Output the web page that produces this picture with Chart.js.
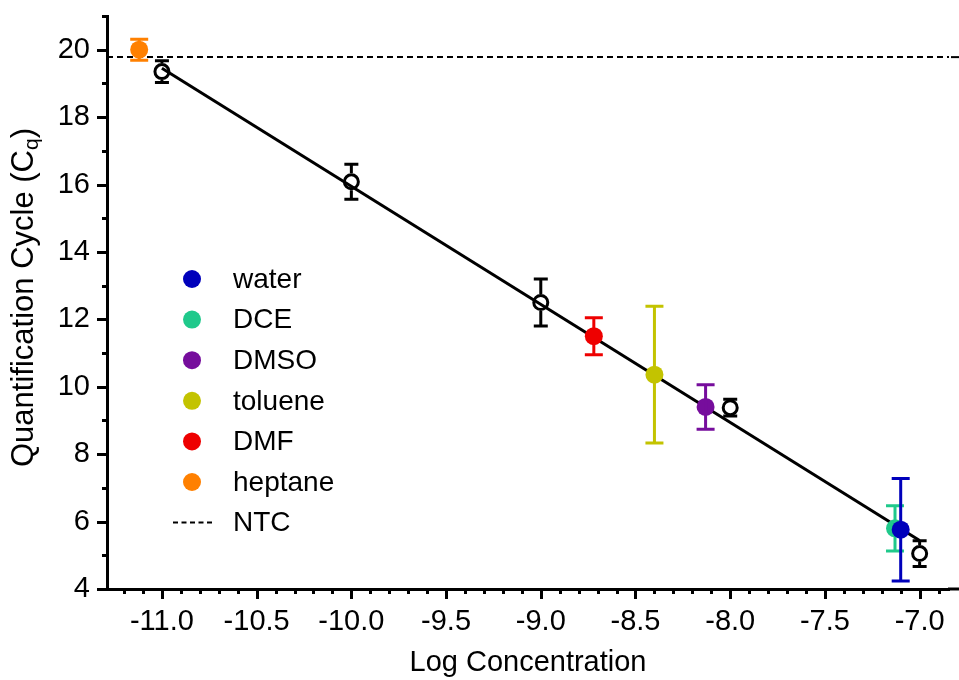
<!DOCTYPE html>
<html><head><meta charset="utf-8">
<script src="https://cdn.jsdelivr.net/npm/chart.js@4.4.0/dist/chart.umd.min.js"></script>
<style>html,body{margin:0;padding:0;background:#fff;}canvas{display:block;}</style>
</head><body>
<canvas id="c" width="959" height="680"></canvas>
<script>
// ---- data ----
const stdX = [-11, -10, -9, -8, -7];
const stdY = [19.35, 16.08, 12.50, 9.38, 5.05];
const stdErr = [0.32, 0.52, 0.70, 0.25, 0.38];

const solvents = ['water', 'DCE', 'DMSO', 'toluene', 'DMF', 'heptane'];
const solventX = [-7.10, -7.13, -8.13, -8.40, -8.72, -11.12];
const solventY = [5.76, 5.80, 9.40, 10.36, 11.50, 20.00];
const solventErr = [1.52, 0.67, 0.66, 2.03, 0.55, 0.31];
const solventColors = ['#0000bb', '#1fc98b', '#760d9c', '#c3c300', '#ee0000', '#ff8000'];

const fitX = [-11, -7];
const fitY = [19.45, 5.44];
const ntcLabel = 'NTC';
const ntcY = 19.78;

const xRange = [-11.29, -6.845];
const yRange = [4, 21];
const xTicks = [-11.0, -10.5, -10.0, -9.5, -9.0, -8.5, -8.0, -7.5, -7.0];
const yTicks = [4, 6, 8, 10, 12, 14, 16, 18, 20];
const xTitle = 'Log Concentration';
const yTitleMain = 'Quantification Cycle (C';
const yTitleSub = 'q';
const yTitleEnd = ')';

const FONT = "'Liberation Sans', Arial, sans-serif";

// ---- datasets ----
const datasets = [];
solvents.forEach((name, i) => {
  datasets.push({
    label: name,
    data: [{x: solventX[i], y: solventY[i]}],
    errors: [solventErr[i]],
    capWidth: 18,
    backgroundColor: solventColors[i],
    borderColor: solventColors[i],
    pointRadius: 9, pointHoverRadius: 9, pointBorderWidth: 0,
    showLine: false,
    order: i
  });
});
datasets.push({
  label: 'fit',
  data: fitX.map((x, i) => ({x, y: fitY[i]})),
  showLine: true, borderColor: '#000', borderWidth: 3,
  pointRadius: 0, pointHoverRadius: 0, order: 6
});
datasets.push({
  label: 'standards',
  data: stdX.map((x, i) => ({x, y: stdY[i]})),
  errors: stdErr, hollow: true, capWidth: 14,
  backgroundColor: 'rgba(0,0,0,0)', borderColor: '#000',
  pointRadius: 7, pointHoverRadius: 7, pointBorderWidth: 3,
  showLine: false, order: 7
});
datasets.push({
  label: ntcLabel,
  data: [{x: xRange[0], y: ntcY}, {x: xRange[1], y: ntcY}],
  showLine: true, borderColor: '#000', borderWidth: 2, borderDash: [6, 4],
  pointRadius: 0, pointHoverRadius: 0, order: 8
});

// ---- plugins ----
const errorBars = {
  id: 'errorBars',
  afterDatasetDraw(chart, args) {
    const ds = chart.data.datasets[args.index];
    if (!ds.errors) return;
    const ctx = chart.ctx, xs = chart.scales.x, ys = chart.scales.y;
    ctx.save();
    ctx.strokeStyle = ds.borderColor; ctx.lineWidth = 3; ctx.lineCap = 'butt';
    ds.data.forEach((p, i) => {
      const e = ds.errors[i];
      const px = xs.getPixelForValue(p.x), py = ys.getPixelForValue(p.y);
      const top = ys.getPixelForValue(p.y + e), bot = ys.getPixelForValue(p.y - e);
      const gap = ds.hollow ? ds.pointRadius + ds.pointBorderWidth / 2 : 0;
      const cw = ds.capWidth / 2;
      ctx.beginPath();
      if (gap) {
        if (py - top > gap) { ctx.moveTo(px, top); ctx.lineTo(px, py - gap); }
        if (bot - py > gap) { ctx.moveTo(px, py + gap); ctx.lineTo(px, bot); }
      } else { ctx.moveTo(px, top); ctx.lineTo(px, bot); }
      ctx.moveTo(px - cw, top); ctx.lineTo(px + cw, top);
      ctx.moveTo(px - cw, bot); ctx.lineTo(px + cw, bot);
      ctx.stroke();
    });
    ctx.restore();
  }
};

const axisDecor = {
  id: 'axisDecor',
  afterDraw(chart) {
    const ctx = chart.ctx, xs = chart.scales.x, ys = chart.scales.y, ca = chart.chartArea;
    ctx.save();
    ctx.strokeStyle = '#000';
    // extend x axis line and NTC line to the canvas edge
    ctx.lineWidth = 3;
    ctx.beginPath(); ctx.moveTo(ca.right - 1, ca.bottom); ctx.lineTo(chart.width, ca.bottom); ctx.stroke();
    const ny = ys.getPixelForValue(ntcY);
    ctx.lineWidth = 2;
    ctx.beginPath(); ctx.moveTo(ca.right + 2, ny); ctx.lineTo(chart.width, ny); ctx.stroke();
    ctx.lineWidth = 3;
    const x0 = Math.ceil(xRange[0] * 10 - 1e-6), x1 = Math.floor(xRange[1] * 10 + 1e-6);
    for (let k = x0; k <= x1; k++) {
      const v = k / 10, px = Math.round(xs.getPixelForValue(v)) + 0.5;
      const major = k % 5 === 0;
      ctx.beginPath(); ctx.moveTo(px, ca.bottom); ctx.lineTo(px, ca.bottom + (major ? 10 : 5)); ctx.stroke();
    }
    for (let v = Math.ceil(yRange[0]); v <= yRange[1]; v++) {
      const py = Math.round(ys.getPixelForValue(v)) + 0.5;
      const major = v % 2 === 0;
      ctx.beginPath(); ctx.moveTo(ca.left, py); ctx.lineTo(ca.left - (major ? 10 : 5), py); ctx.stroke();
    }
    // y title with subscript
    ctx.fillStyle = '#000';
    const big = '31px ' + FONT, small = '21px ' + FONT;
    ctx.font = big; const w1 = ctx.measureText(yTitleMain).width; const w3 = ctx.measureText(yTitleEnd).width;
    ctx.font = small; const w2 = ctx.measureText(yTitleSub).width;
    const total = w1 + w2 + w3;
    ctx.translate(24, (ca.top + ca.bottom) / 2 - 5);
    ctx.rotate(-Math.PI / 2);
    ctx.textBaseline = 'middle'; ctx.textAlign = 'left';
    let tx = -total / 2;
    ctx.font = big; ctx.fillText(yTitleMain, tx, 0); tx += w1;
    ctx.font = small; ctx.fillText(yTitleSub, tx, 8); tx += w2;
    ctx.font = big; ctx.fillText(yTitleEnd, tx, 0);
    ctx.restore();

    // legend
    ctx.save();
    ctx.font = '28px ' + FONT; ctx.textBaseline = 'middle'; ctx.textAlign = 'left'; ctx.fillStyle = '#000';
    const lx = 192, ly = 279, step = 40.6;
    solvents.forEach((name, i) => {
      const y = ly + i * step;
      ctx.fillStyle = solventColors[i];
      ctx.beginPath(); ctx.arc(lx, y, 9, 0, Math.PI * 2); ctx.fill();
      ctx.fillStyle = '#000'; ctx.fillText(name, 233, y + 1);
    });
    const yN = ly + solvents.length * step;
    ctx.strokeStyle = '#000'; ctx.lineWidth = 2; ctx.setLineDash([5, 3.5]);
    ctx.beginPath(); ctx.moveTo(173, yN); ctx.lineTo(212, yN); ctx.stroke();
    ctx.setLineDash([]);
    ctx.fillText(ntcLabel, 233, yN + 1);
    ctx.restore();
  }
};

new Chart(document.getElementById('c'), {
  type: 'scatter',
  data: { datasets },
  options: {
    responsive: false, animation: false,
    layout: { padding: { top: 16, right: 0, left: 0, bottom: 0 } },
    plugins: { legend: { display: false }, tooltip: { enabled: false } },
    scales: {
      x: {
        type: 'linear', min: xRange[0], max: xRange[1],
        afterBuildTicks: s => { s.ticks = xTicks.map(v => ({ value: v })); },
        afterFit: s => { s.height = 91; s.paddingLeft = 0; s.paddingRight = 0; },
        grid: { display: false, drawTicks: false },
        border: { display: true, color: '#000', width: 3 },
        ticks: { autoSkip: false, maxRotation: 0, color: '#000', padding: 16,
          font: { family: FONT, size: 29 }, callback: v => Number(v).toFixed(1) },
        title: { display: true, text: xTitle, color: '#000', font: { family: FONT, size: 29 }, padding: { top: 0, bottom: 0 } }
      },
      y: {
        type: 'linear', min: yRange[0], max: yRange[1],
        afterBuildTicks: s => { s.ticks = yTicks.map(v => ({ value: v })); },
        afterFit: s => { s.width = 107; s.paddingTop = 0; s.paddingBottom = 0; },
        grid: { display: false, drawTicks: false },
        border: { display: true, color: '#000', width: 3 },
        ticks: { autoSkip: false, color: '#000', padding: 17,
          font: { family: FONT, size: 29 }, callback: v => String(v) }
      }
    }
  },
  plugins: [errorBars, axisDecor]
});
</script>
</body></html>
